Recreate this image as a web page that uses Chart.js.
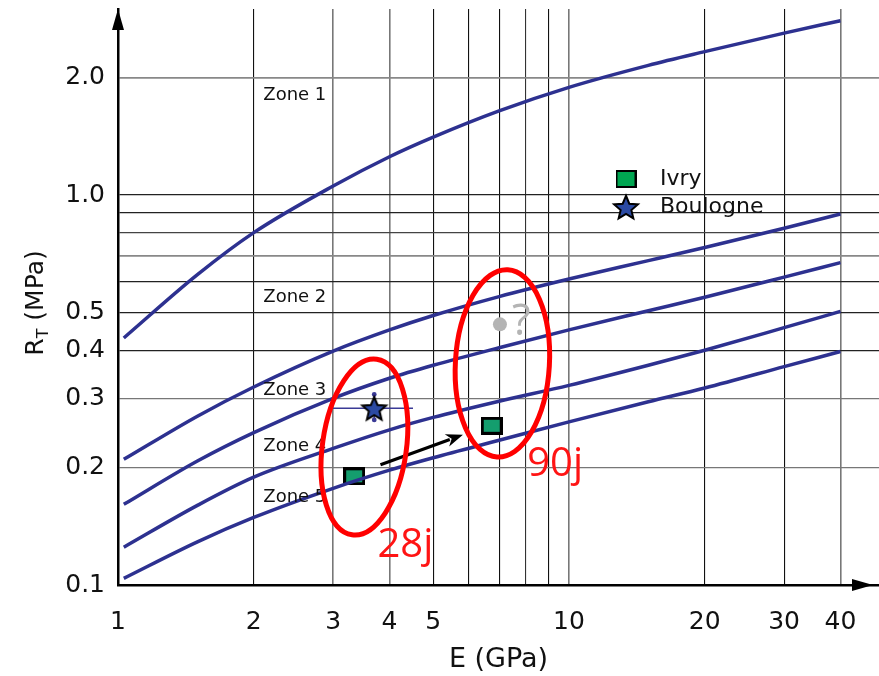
<!DOCTYPE html>
<html>
<head>
<meta charset="utf-8">
<script src="https://cdn.jsdelivr.net/npm/chart.js@4.4.1/dist/chart.umd.min.js"></script>
<style>
  html, body { margin: 0; padding: 0; background: #fff; }
  #wrap { width: 879px; height: 676px; }
</style>
</head>
<body>
<div id="wrap"><canvas id="c" width="879" height="676"></canvas></div>
<script>
// ---- data -------------------------------------------------------------
// Young's modulus E (GPa) at which the zone boundaries are sampled
const E_SAMPLES = [1.03, 1.5, 2, 3, 4, 5, 7, 10, 15, 20, 30, 40];
// Tensile strength R_T (MPa) along each zone boundary, top to bottom
const BOUNDARY_1 = [0.43, 0.625, 0.801, 1.055, 1.254, 1.408, 1.644, 1.889, 2.151, 2.332, 2.601, 2.80];
const BOUNDARY_2 = [0.21, 0.271, 0.322, 0.398, 0.451, 0.491, 0.549, 0.609, 0.679, 0.734, 0.822, 0.894];
const BOUNDARY_3 = [0.161, 0.208, 0.246, 0.301, 0.339, 0.366, 0.406, 0.451, 0.505, 0.547, 0.616, 0.671];
const BOUNDARY_4 = [0.125, 0.160, 0.189, 0.224, 0.250, 0.269, 0.296, 0.325, 0.366, 0.400, 0.457, 0.503];
const BOUNDARY_5 = [0.104, 0.129, 0.149, 0.177, 0.197, 0.212, 0.235, 0.262, 0.295, 0.320, 0.363, 0.397];

// Ivry tests (28 days, 90 days)
const IVRY_E = [3.34, 6.74];
const IVRY_RT = [0.190, 0.256];
// Boulogne test with its scatter range
const BOULOGNE_E = [3.70];
const BOULOGNE_RT = [0.284];
const BOULOGNE_E_RANGE = [2.95, 4.51];
const BOULOGNE_RT_RANGE = [0.265, 0.308];
// expected 90-day Boulogne value (uncertain)
const PENDING_E = [7.03];
const PENDING_RT = [0.466];
// evolution between the two ages
const TREND_E = [3.82, 5.82];
const TREND_RT = [0.2035, 0.243];

// groups of results by age: E extent and R_T extent
const AGE_NAMES = ['28j', '90j'];
const AGE_E_EXTENT = [[2.84, 4.36], [5.60, 9.05]];
const AGE_RT_EXTENT = [[0.1338, 0.381], [0.2127, 0.6437]];
const AGE_LABEL_E = [3.76, 8.08];
const AGE_LABEL_RT = [0.118, 0.19];

// zone names
const ZONE_NAMES = ['Zone 1', 'Zone 2', 'Zone 3', 'Zone 4', 'Zone 5'];
const ZONE_LABEL_E = 2.10;
const ZONE_LABEL_RT = [1.807, 0.547, 0.315, 0.227, 0.168];

// axes
const X_TICKS = [1, 2, 3, 4, 5, 6, 7, 8, 9, 10, 20, 30, 40];
const X_LABELED = [1, 2, 3, 4, 5, 10, 20, 30, 40];
const Y_TICKS = [0.1, 0.2, 0.3, 0.4, 0.5, 0.6, 0.7, 0.8, 0.9, 1, 2];
const Y_LABELED = [0.1, 0.2, 0.3, 0.4, 0.5, 1, 2];

// ---- styles -----------------------------------------------------------
const CURVE_COLOR = '#2d3190';
const FONT = 'DejaVu Sans';
const X_GRID_SHADE = {1: '#000', 2: '#111', 3: '#777', 4: '#777', 5: '#111', 6: '#111', 7: '#111',
                      8: '#333', 9: '#111', 10: '#777', 20: '#111', 30: '#111', 40: '#777'};
const Y_GRID_SHADE = {0.1: '#000', 0.2: '#777', 0.3: '#777', 0.4: '#222', 0.5: '#222', 0.6: '#222',
                      0.7: '#888', 0.8: '#444', 0.9: '#222', 1: '#222', 2: '#888'};
const AGE_TILT_DEG = [8, 3.3];

function starImage(r, fill) {
  const c = document.createElement('canvas');
  const s = Math.ceil(r * 2 + 5);
  c.width = s; c.height = s;
  const g = c.getContext('2d');
  g.translate(s / 2, s / 2 + r * 0.1);
  g.beginPath();
  for (let i = 0; i < 10; i++) {
    const rad = i % 2 ? r * 0.45 : r;
    const a = -Math.PI / 2 + i * Math.PI / 5;
    g.lineTo(rad * Math.cos(a), rad * Math.sin(a));
  }
  g.closePath();
  g.fillStyle = fill; g.fill();
  g.lineWidth = 2; g.strokeStyle = '#000'; g.lineJoin = 'miter'; g.stroke();
  return c;
}
function boxImage(w, h, fill, bw) {
  const c = document.createElement('canvas');
  c.width = w; c.height = h;
  const g = c.getContext('2d');
  g.fillStyle = fill; g.fillRect(0, 0, w, h);
  g.lineWidth = bw; g.strokeStyle = '#000';
  g.strokeRect(bw / 2, bw / 2, w - bw, h - bw);
  return c;
}

const ivryMark = boxImage(22, 18, '#149e6e', 3);
const ivryKey = boxImage(21, 18, '#00a651', 2);
const boulogneMark = starImage(12.5, '#2b4aa3');
const boulogneKey = starImage(12.5, '#2b4aa3');

const pts = (xs, ys) => xs.map((x, i) => ({x, y: ys[i]}));
const boundary = (vals) => ({
  data: pts(E_SAMPLES, vals), showLine: true, pointRadius: 0,
  borderColor: CURVE_COLOR, borderWidth: 3.5, cubicInterpolationMode: 'monotone'
});

// error bars behind the Boulogne star
const rangePlugin = {
  id: 'ranges',
  beforeDatasetsDraw(chart) {
    const {ctx, scales: {x, y}} = chart;
    const px = x.getPixelForValue(BOULOGNE_E[0]);
    const py = y.getPixelForValue(BOULOGNE_RT[0]);
    ctx.save();
    ctx.strokeStyle = '#3a3a96'; ctx.lineWidth = 1.6;
    ctx.beginPath();
    ctx.moveTo(x.getPixelForValue(BOULOGNE_E_RANGE[0]), py);
    ctx.lineTo(x.getPixelForValue(BOULOGNE_E_RANGE[1]), py);
    const y0 = y.getPixelForValue(BOULOGNE_RT_RANGE[0]);
    const y1 = y.getPixelForValue(BOULOGNE_RT_RANGE[1]);
    ctx.moveTo(px, y0); ctx.lineTo(px, y1);
    ctx.stroke();
    ctx.fillStyle = '#3a3a96';
    [y0, y1].forEach(v => { ctx.beginPath(); ctx.arc(px, v, 2.4, 0, Math.PI * 2); ctx.fill(); });
    ctx.restore();
  }
};

// zone names, age groups, arrow, question mark
const notesPlugin = {
  id: 'notes',
  afterDatasetsDraw(chart) {
    const {ctx, scales: {x, y}} = chart;
    ctx.save();
    ctx.fillStyle = '#111';
    ctx.font = `18px "${FONT}"`;
    ctx.textAlign = 'left'; ctx.textBaseline = 'middle';
    ZONE_NAMES.forEach((t, i) => ctx.fillText(t, x.getPixelForValue(ZONE_LABEL_E), y.getPixelForValue(ZONE_LABEL_RT[i])));

    // trend arrow
    const ax0 = x.getPixelForValue(TREND_E[0]), ay0 = y.getPixelForValue(TREND_RT[0]);
    const ax1 = x.getPixelForValue(TREND_E[1]), ay1 = y.getPixelForValue(TREND_RT[1]);
    const ang = Math.atan2(ay1 - ay0, ax1 - ax0);
    const hl = 17, hw = 6.5;
    ctx.strokeStyle = '#000'; ctx.lineWidth = 3.2; ctx.lineCap = 'butt';
    ctx.beginPath();
    ctx.moveTo(ax0, ay0);
    ctx.lineTo(ax1 - (hl - 3) * Math.cos(ang), ay1 - (hl - 3) * Math.sin(ang));
    ctx.stroke();
    ctx.fillStyle = '#000';
    ctx.beginPath();
    ctx.moveTo(ax1, ay1);
    ctx.lineTo(ax1 - hl * Math.cos(ang) + hw * Math.sin(ang), ay1 - hl * Math.sin(ang) - hw * Math.cos(ang));
    ctx.lineTo(ax1 - (hl - 5) * Math.cos(ang), ay1 - (hl - 5) * Math.sin(ang));
    ctx.lineTo(ax1 - hl * Math.cos(ang) - hw * Math.sin(ang), ay1 - hl * Math.sin(ang) + hw * Math.cos(ang));
    ctx.closePath(); ctx.fill();

    // age groups
    ctx.strokeStyle = '#ff0000'; ctx.lineWidth = 5;
    AGE_NAMES.forEach((name, i) => {
      const [e0, e1] = AGE_E_EXTENT[i], [r0, r1] = AGE_RT_EXTENT[i];
      const cx = x.getPixelForValue(Math.sqrt(e0 * e1));
      const cy = y.getPixelForValue(Math.sqrt(r0 * r1));
      const rx = (x.getPixelForValue(e1) - x.getPixelForValue(e0)) / 2;
      const ry = (y.getPixelForValue(r0) - y.getPixelForValue(r1)) / 2;
      ctx.beginPath();
      ctx.ellipse(cx, cy, rx, ry, AGE_TILT_DEG[i] * Math.PI / 180, 0, Math.PI * 2);
      ctx.stroke();
    });
    ctx.fillStyle = '#ff1414';
    ctx.font = '40px "Open Sans"';
    ctx.textBaseline = 'alphabetic';
    AGE_NAMES.forEach((name, i) => ctx.fillText(name, x.getPixelForValue(AGE_LABEL_E[i]), y.getPixelForValue(AGE_LABEL_RT[i])));

    // question mark next to the pending value
    ctx.fillStyle = '#b4b4b4';
    ctx.font = '43px "Open Sans"';
    ctx.textBaseline = 'middle';
    ctx.fillText('?', x.getPixelForValue(PENDING_E[0]) + 12, y.getPixelForValue(PENDING_RT[0]) - 2);
    ctx.restore();
  }
};

// axis arrows, y title and the key
const framePlugin = {
  id: 'frame',
  afterDraw(chart) {
    const {ctx, chartArea: a} = chart;
    ctx.save();
    ctx.fillStyle = '#000';
    // y arrow
    ctx.beginPath();
    ctx.moveTo(a.left, a.top);
    ctx.lineTo(a.left - 6, a.top + 21);
    ctx.lineTo(a.left + 6, a.top + 21);
    ctx.closePath(); ctx.fill();
    // x arrow
    ctx.beginPath();
    ctx.moveTo(a.right - 6, a.bottom);
    ctx.lineTo(a.right - 27, a.bottom - 6);
    ctx.lineTo(a.right - 27, a.bottom + 6);
    ctx.closePath(); ctx.fill();

    // y title: R_T (MPa)
    ctx.fillStyle = '#111';
    ctx.translate(43, (a.top + a.bottom) / 2 + 6);
    ctx.rotate(-Math.PI / 2);
    ctx.textBaseline = 'alphabetic'; ctx.textAlign = 'left';
    const big = `25px "${FONT}"`, small = `16px "${FONT}"`;
    ctx.font = big; const wR = ctx.measureText('R').width; const wRest = ctx.measureText(' (MPa)').width;
    ctx.font = small; const wT = ctx.measureText('T').width;
    let sx = -(wR + wT + wRest) / 2;
    ctx.font = big; ctx.fillText('R', sx, 0); sx += wR;
    ctx.font = small; ctx.fillText('T', sx, 5); sx += wT;
    ctx.font = big; ctx.fillText(' (MPa)', sx, 0);
    ctx.restore();

    // key
    ctx.save();
    const kx = a.left + 508, ky = a.top + 170;
    ctx.drawImage(ivryKey, kx - ivryKey.width / 2, ky - ivryKey.height / 2);
    ctx.drawImage(boulogneKey, kx - boulogneKey.width / 2, ky + 28 - boulogneKey.height / 2);
    ctx.fillStyle = '#111';
    ctx.font = `22px "${FONT}"`;
    ctx.textBaseline = 'middle'; ctx.textAlign = 'left';
    chart.data.datasets.filter(d => d.inKey).forEach((d, i) => ctx.fillText(d.label, kx + 34, ky + i * 28));
    ctx.restore();
  }
};

new Chart(document.getElementById('c'), {
  type: 'scatter',
  data: {
    datasets: [
      boundary(BOUNDARY_1), boundary(BOUNDARY_2), boundary(BOUNDARY_3), boundary(BOUNDARY_4), boundary(BOUNDARY_5),
      {label: 'Ivry', inKey: true, data: pts(IVRY_E, IVRY_RT), pointStyle: ivryMark, pointRadius: 10},
      {label: 'Boulogne', inKey: true, data: pts(BOULOGNE_E, BOULOGNE_RT), pointStyle: boulogneMark, pointRadius: 10},
      {label: '?', data: pts(PENDING_E, PENDING_RT), pointRadius: 7, backgroundColor: '#b4b4b4', borderWidth: 0}
    ]
  },
  options: {
    responsive: false,
    animation: false,
    events: [],
    layout: {autoPadding: false, padding: {top: 9, left: 0, right: 0, bottom: 0}},
    plugins: {legend: {display: false}, tooltip: {enabled: false}},
    scales: {
      x: {
        type: 'logarithmic', min: 1, max: 48.7,
        afterBuildTicks(s) { s.ticks = X_TICKS.map(v => ({value: v})); },
        afterFit(s) { s.height = 91; s.paddingLeft = 0; s.paddingRight = 0; s.paddingTop = 0; s.paddingBottom = 0; },
        grid: {
          drawTicks: false,
          color: c => (c.tick ? X_GRID_SHADE[c.tick.value] : '#000') || '#111',
          lineWidth: c => (c.tick && (X_GRID_SHADE[c.tick.value] || '').startsWith('#7')) ? 1.6 : 1.1
        },
        border: {color: '#000', width: 2.5},
        ticks: {
          padding: 22, autoSkip: false, maxRotation: 0, minRotation: 0, color: '#111',
          font: {family: FONT, size: 25},
          callback: v => X_LABELED.includes(v) ? String(v) : ''
        },
        title: {display: true, text: 'E (GPa)', color: '#111', font: {family: FONT, size: 27}, padding: {top: 0, bottom: 0}}
      },
      y: {
        type: 'logarithmic', min: 0.1, max: 3,
        afterBuildTicks(s) { s.ticks = Y_TICKS.map(v => ({value: v})); },
        afterFit(s) { s.width = 118; s.paddingLeft = 0; s.paddingRight = 0; s.paddingTop = 0; s.paddingBottom = 0; },
        grid: {
          drawTicks: false,
          color: c => (c.tick ? Y_GRID_SHADE[c.tick.value] : '#000') || '#111',
          lineWidth: c => (c.tick && (Y_GRID_SHADE[c.tick.value] || '').startsWith('#8')) ? 1.8 : 1.2
        },
        border: {color: '#000', width: 2.5},
        ticks: {
          padding: 13, autoSkip: false, color: '#111',
          font: {family: FONT, size: 25},
          callback: v => Y_LABELED.includes(v) ? v.toFixed(1) : ''
        },
        title: {display: false}
      }
    }
  },
  plugins: [rangePlugin, notesPlugin, framePlugin]
});
</script>
</body>
</html>
